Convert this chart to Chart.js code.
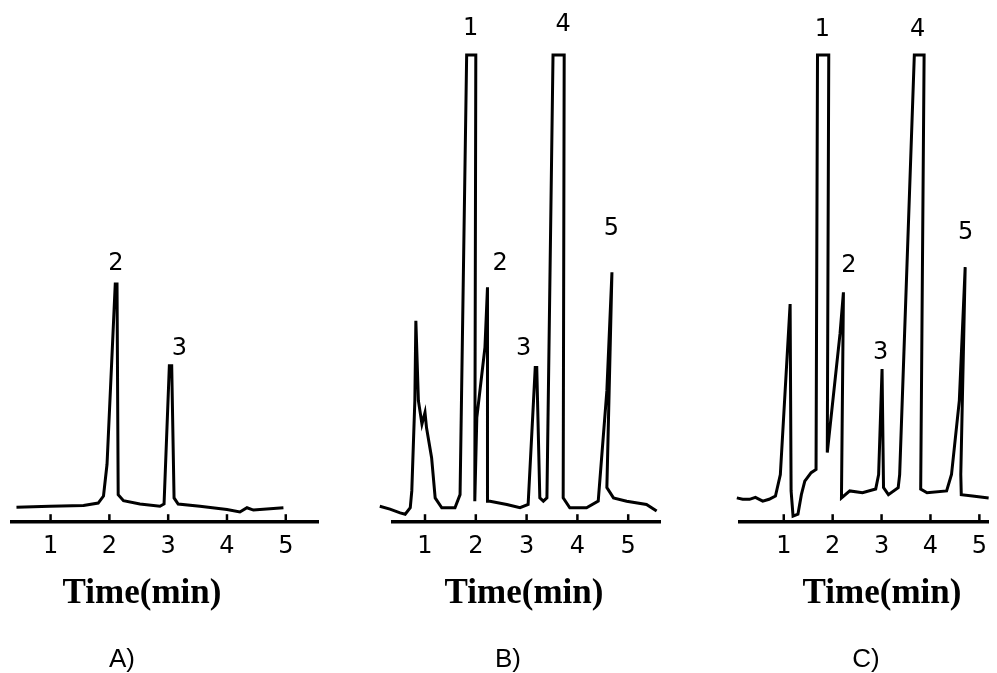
<!DOCTYPE html>
<html>
<head>
<meta charset="utf-8">
<title>Chromatograms A, B, C</title>
<script src="https://cdn.jsdelivr.net/npm/chart.js@4.4.1/dist/chart.umd.min.js"></script>
<style>
  body { margin: 0; background: #fff; }
  #wrap { position: relative; width: 997px; height: 673px; }
  #wrap canvas { position: absolute; left: 0; top: 0; }
</style>
</head>
<body>
<div id="wrap">
  <canvas id="chartA" width="997" height="673"></canvas>
  <canvas id="chartB" width="997" height="673"></canvas>
  <canvas id="chartC" width="997" height="673"></canvas>
</div>
<script>
// time axis tick labels (min)
const timeTicks = [1, 2, 3, 4, 5];

// A) retention time (min) / detector response (% of full scale)
const timeA = [0.42, 0.99, 1.56, 1.81, 1.90, 1.96, 2.10, 2.13, 2.15, 2.24, 2.52, 2.86, 2.93, 3.02, 3.06, 3.10, 3.17, 3.54, 4.00, 4.22, 4.34, 4.45, 4.96];
const respA = [3.2, 3.4, 3.6, 4.1, 5.6, 12.4, 51.0, 51.0, 5.9, 4.6, 3.9, 3.4, 3.9, 33.5, 33.5, 5.2, 3.9, 3.4, 2.7, 2.2, 3.1, 2.6, 3.1];
const peakNamesA = ["2", "3"];
const peakTimesA = [2.11, 3.19];
const peakLabelA = [55.3, 37.1];

// B)
const timeB = [0.11, 0.31, 0.51, 0.61, 0.71, 0.74, 0.80, 0.82, 0.87, 0.94, 1.00, 1.03, 1.13, 1.20, 1.33, 1.59, 1.69, 1.82, 2.00, 1.98, 2.02, 2.18, 2.23, 2.23, 2.28, 2.61, 2.87, 3.03, 3.17, 3.20, 3.26, 3.33, 3.40, 3.52, 3.74, 3.72, 3.85, 4.18, 4.41, 4.58, 4.68, 4.58, 4.71, 4.97, 5.36, 5.56];
const respB = [3.4, 2.8, 2.0, 1.7, 3.1, 6.7, 26.0, 43.1, 26.0, 21.0, 23.5, 20.2, 13.8, 5.2, 3.1, 3.1, 5.9, 100, 100, 4.5, 22.4, 37.4, 50.3, 4.5, 4.5, 3.8, 3.1, 3.8, 33.1, 33.1, 5.2, 4.5, 5.2, 100, 100, 5.2, 3.1, 3.1, 4.5, 28.1, 53.5, 7.4, 5.2, 4.5, 3.8, 2.4];
const peakNamesB = ["1", "2", "3", "4", "5"];
const peakTimesB = [1.90, 2.48, 2.94, 3.72, 4.67];
const peakLabelB = [105.7, 55.3, 37.1, 106.4, 62.9];

// C)
const timeC = [0.04, 0.16, 0.30, 0.42, 0.57, 0.70, 0.83, 0.93, 1.13, 1.15, 1.19, 1.29, 1.36, 1.43, 1.56, 1.66, 1.69, 1.92, 1.89, 2.15, 2.22, 2.18, 2.35, 2.61, 2.88, 2.94, 3.01, 3.04, 3.14, 3.34, 3.37, 3.67, 3.87, 3.80, 3.93, 4.33, 4.43, 4.59, 4.71, 4.62, 4.63, 4.86, 5.19];
const respC = [5.2, 4.9, 4.9, 5.3, 4.5, 4.9, 5.6, 10.2, 46.7, 6.7, 1.3, 1.7, 5.9, 8.8, 10.6, 11.3, 100, 100, 14.9, 40.3, 49.2, 5.2, 6.7, 6.3, 7.1, 10.2, 32.8, 7.4, 5.9, 7.4, 10.2, 100, 100, 7.1, 6.3, 6.7, 10.2, 26.0, 54.6, 10.2, 5.9, 5.6, 5.2];
const peakNamesC = ["1", "2", "3", "4", "5"];
const peakTimesC = [1.79, 2.33, 2.98, 3.74, 4.72];
const peakLabelC = [105.4, 54.9, 36.3, 105.4, 62.0];

// tick marks pointing up, peak numbers, axis caption and panel letter
const chromDecor = {
  id: "chromDecor",
  afterDraw(chart, args, opts) {
    const { ctx, chartArea } = chart;
    const xs = chart.scales.x;
    const ys = chart.scales.y;
    ctx.save();
    ctx.strokeStyle = "#000";
    ctx.lineWidth = 2.5;
    xs.ticks.forEach((t) => {
      const px = xs.getPixelForValue(t.value);
      ctx.beginPath();
      ctx.moveTo(px, chartArea.bottom);
      ctx.lineTo(px, chartArea.bottom - 8);
      ctx.stroke();
    });
    ctx.fillStyle = "#000";
    ctx.textAlign = "center";
    ctx.textBaseline = "middle";
    ctx.font = '24px "DejaVu Sans"';
    opts.names.forEach((n, i) => {
      ctx.fillText(n, xs.getPixelForValue(opts.times[i]), ys.getPixelForValue(opts.resp[i]));
    });
    ctx.textBaseline = "alphabetic";
    ctx.font = 'bold 35px "Liberation Serif"';
    ctx.fillText("Time(min)", opts.captionX, 603);
    ctx.font = '26px "Liberation Sans"';
    ctx.fillText(opts.letter, opts.letterX, 667);
    ctx.restore();
  }
};

function makeChart(id, times, resp, xMin, xMax, padLeft, padRight, decor) {
  return new Chart(document.getElementById(id), {
    type: "line",
    data: {
      datasets: [{
        data: times.map((t, i) => ({ x: t, y: resp[i] })),
        borderColor: "#000",
        borderWidth: 3,
        pointRadius: 0,
        tension: 0,
        fill: false,
        clip: false
      }]
    },
    options: {
      responsive: false,
      animation: false,
      devicePixelRatio: 1,
      layout: { padding: { top: 55, bottom: 102, left: padLeft, right: padRight } },
      plugins: {
        legend: { display: false },
        tooltip: { enabled: false },
        chromDecor: decor
      },
      scales: {
        x: {
          type: "linear",
          min: xMin,
          max: xMax,
          afterBuildTicks: (scale) => { scale.ticks = timeTicks.map((v) => ({ value: v })); },
          grid: { display: false, drawTicks: false },
          border: { display: true, color: "#000", width: 3.5 },
          ticks: {
            autoSkip: false,
            maxRotation: 0,
            padding: 10,
            color: "#000",
            font: { family: "DejaVu Sans", size: 24 }
          }
        },
        y: { min: 0, max: 100, display: false }
      }
    },
    plugins: [chromDecor]
  });
}

makeChart("chartA", timeA, respA, 0.344, 5.548, 12, 997 - 318,
  { names: peakNamesA, times: peakTimesA, resp: peakLabelA, captionX: 142, letter: "A)", letterX: 122 });
makeChart("chartB", timeB, respB, 0.370, 5.626, 393, 997 - 660,
  { names: peakNamesB, times: peakTimesB, resp: peakLabelB, captionX: 524, letter: "B)", letterX: 508 });
makeChart("chartC", timeC, respC, 0.105, 5.194, 740, 0,
  { names: peakNamesC, times: peakTimesC, resp: peakLabelC, captionX: 882, letter: "C)", letterX: 866 });
</script>
</body>
</html>
